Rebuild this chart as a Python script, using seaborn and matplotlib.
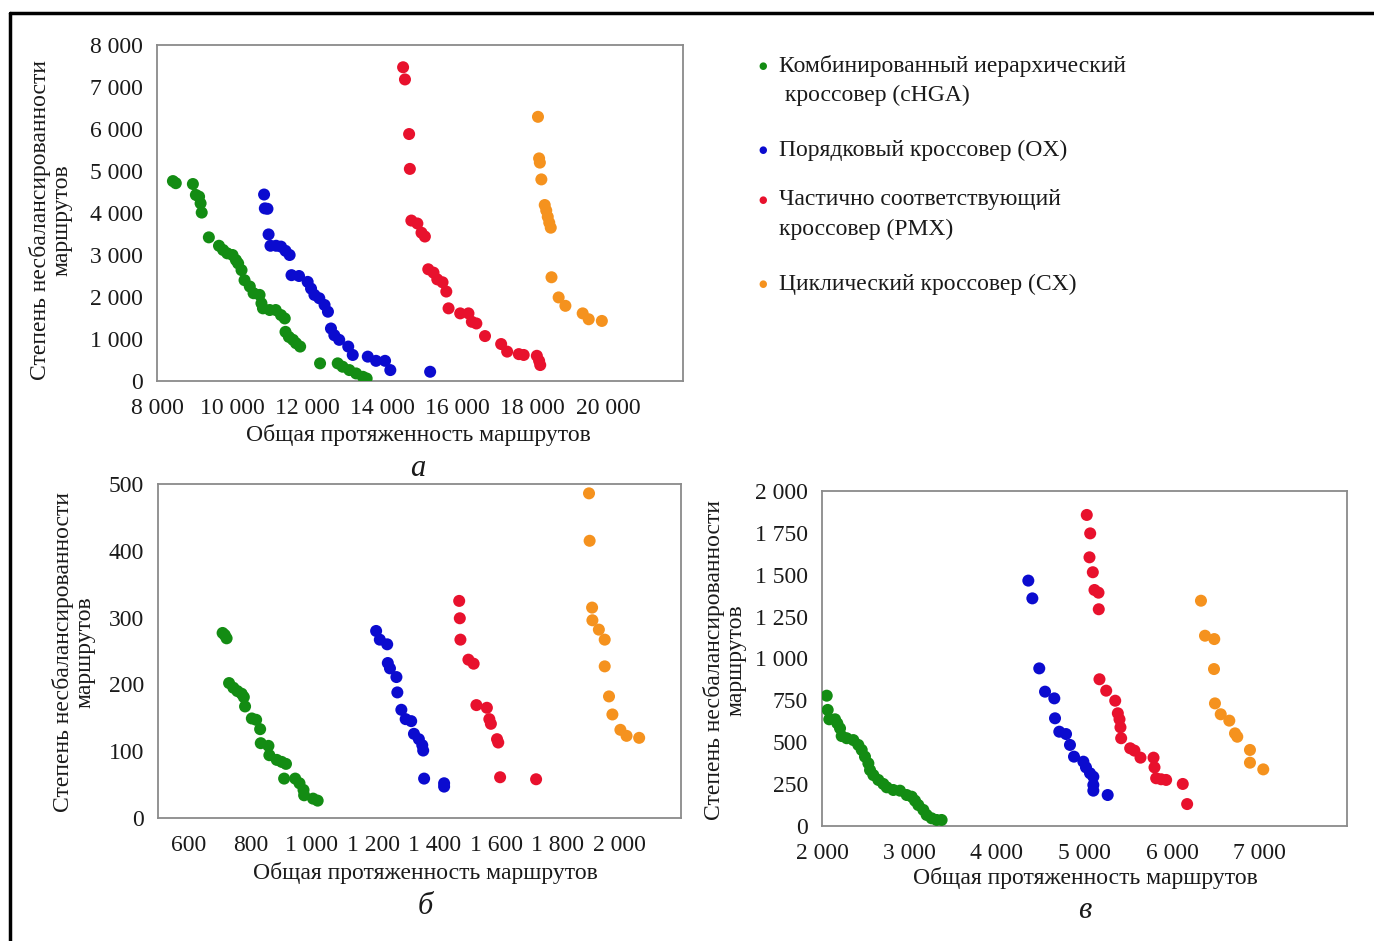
import numpy as np
import pandas as pd
import matplotlib
matplotlib.use("Agg")
import matplotlib.pyplot as plt
from matplotlib.ticker import FuncFormatter
from matplotlib.lines import Line2D
import seaborn as sns

SERIES = ["cHGA", "OX", "PMX", "CX"]
COLORS = ["#138C13", "#0B0BCF", "#E8112D", "#F5921E"]
LEGEND_LABELS = ["Комбинированный иерархический\n кроссовер (cHGA)",
                 "Порядковый кроссовер (OX)",
                 "Частично соответствующий\nкроссовер (PMX)",
                 "Циклический кроссовер (CX)"]
XLABEL = "Общая протяженность маршрутов"
YLABEL = "Степень несбалансированности\nмаршрутов"

# ---- panel a ----
a_chga_x = [8424, 8500, 8955, 9035, 9120, 9160, 9190, 9380, 9650, 9760, 9870, 10010, 10100, 10160,
            10250, 10330, 10470, 10570, 10730, 10780, 10820, 11000, 11160, 11300, 11400, 11420,
            11510, 11620, 11700, 11810, 12340, 12810, 12940, 13120, 13300, 13480, 13580]
a_chga_y = [4760, 4710, 4690, 4430, 4390, 4230, 4010, 3420, 3220, 3120, 3040, 3000, 2880, 2800,
            2640, 2400, 2250, 2090, 2050, 1850, 1730, 1690, 1690, 1570, 1490, 1170,
            1050, 980, 900, 820, 420, 420, 340, 260, 180, 100, 60]
a_ox_x = [10850, 10870, 10940, 10970, 11020, 11170, 11300, 11420, 11530, 11580, 11780, 12010, 12100,
          12190, 12320, 12460, 12550, 12630, 12720, 12850, 13090, 13210, 13610, 13830, 14070, 14210, 15270]
a_ox_y = [4440, 4110, 4100, 3490, 3220, 3220, 3200, 3100, 3000, 2520, 2500, 2360, 2200,
          2050, 1970, 1810, 1650, 1250, 1090, 980, 820, 620, 580, 480, 480, 260, 220]
a_pmx_x = [14550, 14600, 14710, 14730, 14770, 14930, 15040, 15130, 15220, 15360, 15460, 15600, 15700,
           15760, 16070, 16290, 16380, 16500, 16730, 17160, 17320, 17630, 17760, 18110, 18170, 18200]
a_pmx_y = [7470, 7180, 5880, 5050, 3820, 3750, 3530, 3440, 2660, 2580, 2420, 2350, 2130,
           1730, 1610, 1610, 1410, 1370, 1070, 880, 700, 640, 620, 600, 480, 380]
a_cx_x = [18140, 18170, 18190, 18230, 18320, 18360, 18400, 18440, 18480, 18500, 18690, 18870, 19330, 19490, 19840]
a_cx_y = [6290, 5300, 5200, 4800, 4190, 4060, 3910, 3770, 3650, 2470, 1990, 1790, 1610, 1470, 1430]

# ---- panel б ----
b_chga_x = [710, 717, 723, 731, 745, 758, 772, 779, 783, 805, 819, 832, 834, 859, 862, 886, 902, 916,
            910, 946, 960, 973, 975, 1004, 1019]
b_chga_y = [277, 274, 269, 202, 195, 190, 186, 181, 167, 149, 147, 133, 112, 108, 94, 87, 84, 81,
            59, 59, 52, 42, 34, 29, 26]
b_ox_x = [1209, 1221, 1245, 1247, 1254, 1275, 1278, 1291, 1305, 1323, 1332, 1348, 1359, 1362, 1365, 1430, 1430]
b_ox_y = [280, 267, 260, 232, 224, 211, 188, 162, 148, 145, 126, 118, 109, 101, 59, 52, 47]
b_pmx_x = [1479, 1481, 1483, 1509, 1526, 1535, 1569, 1577, 1582, 1602, 1606, 1612, 1729]
b_pmx_y = [325, 299, 267, 237, 231, 169, 165, 148, 141, 118, 113, 61, 58]
b_cx_x = [1901, 1903, 1911, 1912, 1933, 1952, 1952, 1966, 1977, 2003, 2023, 2064]
b_cx_y = [486, 415, 315, 296, 282, 267, 227, 182, 155, 132, 123, 120]

# ---- panel в ----
c_chga_x = [2054, 2065, 2083, 2149, 2175, 2206, 2225, 2282, 2358, 2415, 2454, 2491, 2530, 2549, 2587,
            2644, 2701, 2740, 2815, 2891, 2968, 3025, 3063, 3101, 3158, 3196, 3253, 3310, 3367]
c_chga_y = [778, 693, 637, 637, 613, 583, 537, 524, 513, 484, 454, 414, 374, 334, 304,
            275, 251, 231, 215, 211, 185, 175, 151, 125, 96, 66, 46, 36, 36]
c_ox_x = [4358, 4404, 4483, 4549, 4655, 4663, 4712, 4789, 4834, 4880, 4987, 5017, 5063, 5101, 5101, 5101, 5265]
c_ox_y = [1465, 1359, 941, 802, 762, 643, 563, 549, 484, 414, 384, 350, 315, 294, 245, 211, 185]
c_pmx_x = [5026, 5065, 5057, 5095, 5114, 5160, 5163, 5171, 5248, 5351, 5381, 5400, 5411, 5419, 5522,
           5571, 5640, 5789, 5800, 5819, 5876, 5933, 6123, 6173]
c_pmx_y = [1857, 1747, 1604, 1515, 1409, 1393, 1294, 876, 808, 748, 673, 637, 589, 524, 464,
           450, 408, 408, 350, 285, 279, 275, 251, 131]
c_cx_x = [6331, 6377, 6483, 6480, 6491, 6557, 6655, 6720, 6746, 6891, 6891, 7043]
c_cx_y = [1345, 1136, 1116, 937, 732, 667, 629, 553, 533, 454, 378, 338]

A_XTICKS = [8000, 10000, 12000, 14000, 16000, 18000, 20000, 22000]
A_YTICKS = [0, 1000, 2000, 3000, 4000, 5000, 6000, 7000, 8000]
B_XTICKS = [600, 800, 1000, 1200, 1400, 1600, 1800, 2000, 2200]
B_YTICKS = [0, 100, 200, 300, 400, 500]
C_XTICKS = [2000, 3000, 4000, 5000, 6000, 7000, 8000]
C_YTICKS = [0, 250, 500, 750, 1000, 1250, 1500, 1750, 2000]


def frame(xs, ys):
    rows = []
    for name, x, y in zip(SERIES, xs, ys):
        for xi, yi in zip(x, y):
            rows.append({"x": xi, "y": yi, "series": name})
    return pd.DataFrame(rows)


sns.set_style("white")
plt.rcParams["font.family"] = ["Liberation Serif", "DejaVu Serif"]

W, H = 1374, 941
fig = plt.figure(figsize=(W / 100, H / 100), dpi=100)
FS = 17


def fx(px):
    return px / W


def fy(py):
    return 1 - py / H


def sp(v):
    return f"{int(v):,}".replace(",", " ")


panels = [
    (frame([a_chga_x, a_ox_x, a_pmx_x, a_cx_x], [a_chga_y, a_ox_y, a_pmx_y, a_cx_y]),
     (157, 45, 683, 381), (8000, 22000), (0, 8000), A_XTICKS, A_YTICKS, [22000]),
    (frame([b_chga_x, b_ox_x, b_pmx_x, b_cx_x], [b_chga_y, b_ox_y, b_pmx_y, b_cx_y]),
     (158, 484, 681, 818), (500, 2200), (0, 500), B_XTICKS, B_YTICKS, [2200]),
    (frame([c_chga_x, c_ox_x, c_pmx_x, c_cx_x], [c_chga_y, c_ox_y, c_pmx_y, c_cx_y]),
     (822, 491, 1347, 826), (2000, 8000), (0, 2000), C_XTICKS, C_YTICKS, [8000]),
]

axes = []
for df, (l, t, r, b), xl, yl, xt, yt, hide in panels:
    ax = fig.add_axes([fx(l), fy(b), fx(r) - fx(l), (b - t) / H])
    sns.scatterplot(data=df, x="x", y="y", hue="series", hue_order=SERIES,
                    palette=COLORS, s=75, linewidth=0, legend=False, ax=ax, zorder=3)
    ax.set_xlim(*xl)
    ax.set_ylim(*yl)
    ax.set_xticks(xt)
    ax.set_yticks(yt)
    ax.xaxis.set_major_formatter(FuncFormatter(lambda v, p, h=hide: "" if v in h else sp(v)))
    ax.yaxis.set_major_formatter(FuncFormatter(lambda v, p: sp(v)))
    ax.set_xlabel("")
    ax.set_ylabel("")
    for s in ax.spines.values():
        s.set_color("#8a8a8a")
        s.set_linewidth(1.3)
    ax.tick_params(axis="both", which="major", direction="out", length=5, width=1.2,
                   color="#8a8a8a", labelsize=FS, labelcolor="#1a1a1a")
    ax.tick_params(axis="x", pad=7)
    ax.tick_params(axis="y", pad=5)
    ax.set_facecolor("white")
    axes.append(ax)

# axis titles
txt_kw = dict(fontsize=FS, color="#1a1a1a", ha="center", va="center")
fig.text(fx(418), fy(435), XLABEL, **txt_kw)
fig.text(fx(425), fy(873), XLABEL, **txt_kw)
fig.text(fx(1085), fy(878), XLABEL, **txt_kw)
fig.text(fx(51), fy(220), YLABEL, rotation=90, linespacing=1.05, **txt_kw)
fig.text(fx(74), fy(652), YLABEL, rotation=90, linespacing=1.05, **txt_kw)
fig.text(fx(725), fy(660), YLABEL, rotation=90, linespacing=1.05, **txt_kw)

# panel letters
let_kw = dict(fontsize=22, style="italic", color="#1a1a1a", ha="center", va="center")
fig.text(fx(418), fy(468), "а", **let_kw)
fig.text(fx(425), fy(906), "б", **let_kw)
fig.text(fx(1085), fy(911), "в", **let_kw)

# legend
leg_rows = [66, 150, 200, 284]
for lab, col, yy in zip(LEGEND_LABELS, COLORS, leg_rows):
    fig.text(fx(763), fy(yy), "●", color=col, fontsize=7, ha="center", va="center",
             family="DejaVu Sans")
    for k, line in enumerate(lab.split("\n")):
        fig.text(fx(779), fy(yy + 29 * k), line, fontsize=FS, color="#1a1a1a",
                 ha="left", va="center")

# outer frame lines (left and top)
fig.add_artist(Line2D([fx(10), fx(10)], [0, fy(13)], color="black", lw=2.5))
fig.add_artist(Line2D([fx(10), 1], [fy(13), fy(13)], color="black", lw=2.5))

fig.savefig("out.png", dpi=100, facecolor="white")
